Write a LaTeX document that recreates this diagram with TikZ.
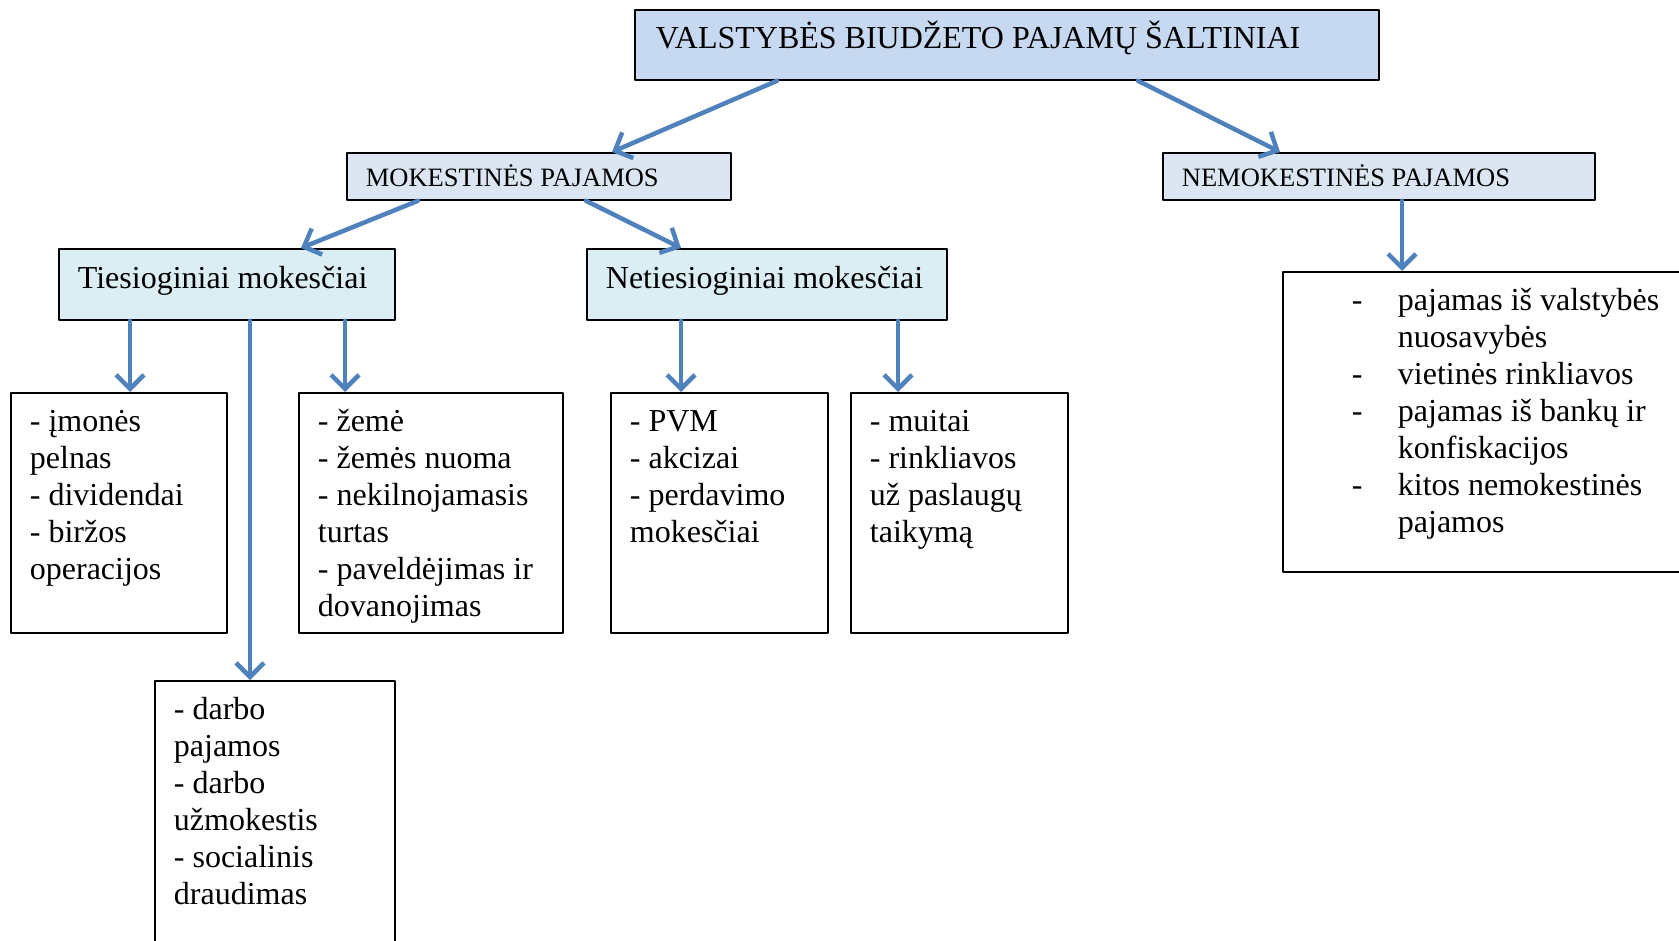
\documentclass[tikz,border=0pt]{standalone}
\usepackage{fontspec}
\setmainfont{Liberation Serif}
\usetikzlibrary{arrows.meta}
\definecolor{topblue}{HTML}{C6D9F1}
\definecolor{midblue}{HTML}{DCE6F2}
\definecolor{lowcyan}{HTML}{DAEEF3}
\definecolor{arrowblue}{HTML}{4F81BD}
\newcommand{\boxtext}[3]{\parbox[t][#1][t]{#2}{\strut#3}}
\newcommand{\hangdash}{\makebox[46pt][l]{-}}
\newcommand{\hangskip}{\hspace*{46pt}}

\begin{document}
\begin{tikzpicture}[x=1pt,y=-1pt,line cap=round,line join=round,
  box/.style={draw=black,line width=1.8pt,anchor=north west,inner xsep=19pt,inner ysep=13pt,
    font=\fontsize{32pt}{37pt}\selectfont},
  capsbox/.style={box,fill=midblue,inner ysep=12pt,font=\fontsize{26.5pt}{30.5pt}\selectfont},
  kindbox/.style={box,fill=lowcyan,inner ysep=14pt},
  listbox/.style={box,fill=white},
  link/.style={draw=arrowblue,line width=4.5pt,-{Straight Barb[length=14pt,width=28pt]}}]
\useasboundingbox (0,0) rectangle (1679,941);
% headings
\node[box,fill=topblue,inner xsep=21pt,inner ysep=11pt] (topbox) at (634,9)
  {\boxtext{48pt}{702pt}{VALSTYBĖS BIUDŽETO PAJAMŲ ŠALTINIAI}};
\node[capsbox] (mokbox) at (346,152) {\boxtext{23pt}{346pt}{MOKESTINĖS PAJAMOS}};
\node[capsbox] (nembox) at (1162,152) {\boxtext{23pt}{394pt}{NEMOKESTINĖS PAJAMOS}};
\node[kindbox] (tiesbox) at (58,248) {\boxtext{43pt}{298pt}{Tiesioginiai mokesčiai}};
\node[kindbox] (netbox) at (586,248) {\boxtext{43pt}{322pt}{Netiesioginiai mokesčiai}};
% lists
\node[listbox] (imbox) at (10,392)
  {\boxtext{214pt}{178pt}{- įmonės\\pelnas\\- dividendai\\- biržos\\operacijos}};
\node[listbox] (zemebox) at (298,392)
  {\boxtext{214pt}{226pt}{- žemė\\- žemės nuoma\\- nekilnojamasis\\turtas\\- paveldėjimas ir\\dovanojimas}};
\node[listbox] (pvmbox) at (610,392)
  {\boxtext{214pt}{179pt}{- PVM\\- akcizai\\- perdavimo\\mokesčiai}};
\node[listbox] (muitbox) at (850,392)
  {\boxtext{214pt}{179pt}{- muitai\\- rinkliavos\\už paslaugų\\taikymą}};
\node[listbox] (darbobox) at (154,680)
  {\boxtext{300pt}{202pt}{- darbo\\pajamos\\- darbo\\užmokestis\\- socialinis\\draudimas}};
\node[listbox,inner xsep=69pt] (otherbox) at (1282,271)
  {\boxtext{274pt}{400pt}{\hangdash pajamas iš valstybės\\\hangskip nuosavybės\\
   \hangdash vietinės rinkliavos\\\hangdash pajamas iš bankų ir\\\hangskip konfiskacijos\\
   \hangdash kitos nemokestinės\\\hangskip pajamos}};
% arrows
\draw[link] ([xshift=143pt]topbox.south west) -- ([xshift=266pt]mokbox.north west);
\draw[link] ([xshift=504pt]topbox.south west) -- ([xshift=118pt]nembox.north west);
\draw[link] ([xshift=72pt]mokbox.south west) -- ([xshift=243pt]tiesbox.north west);
\draw[link] ([xshift=240pt]mokbox.south west) -- ([xshift=95pt]netbox.north west);
\draw[link] ([xshift=72pt]tiesbox.south west) -- ([xshift=120pt]imbox.north west);
\draw[link] ([xshift=192pt]tiesbox.south west) -- ([xshift=96pt]darbobox.north west);
\draw[link] ([xshift=287pt]tiesbox.south west) -- ([xshift=47pt]zemebox.north west);
\draw[link] ([xshift=95pt]netbox.south west) -- ([xshift=71pt]pvmbox.north west);
\draw[link] ([xshift=312pt]netbox.south west) -- ([xshift=48pt]muitbox.north west);
\draw[link] ([xshift=240pt]nembox.south west) -- ([xshift=120pt]otherbox.north west);
\end{tikzpicture}
\end{document}
